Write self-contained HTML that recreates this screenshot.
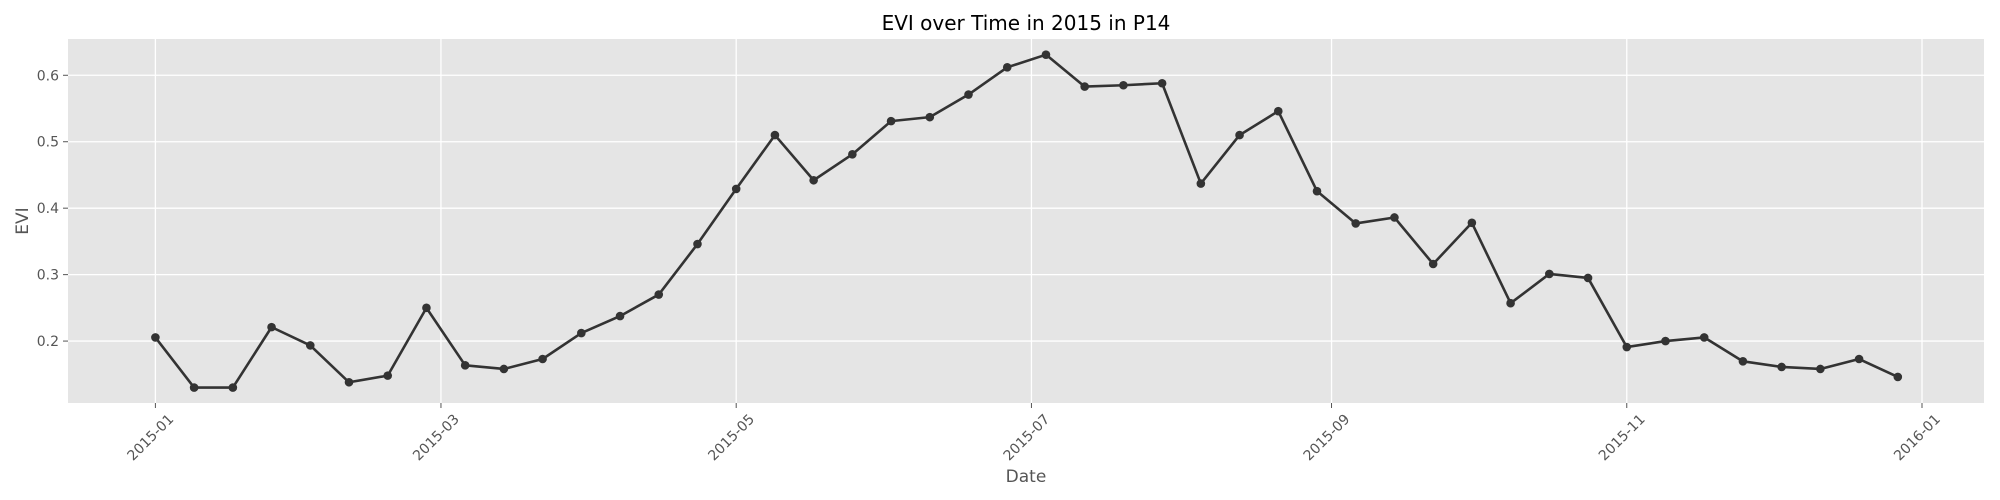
<!DOCTYPE html>
<html><head><meta charset="utf-8"><style>
html,body{margin:0;padding:0;background:#fff;}
svg{display:block;font-family:"DejaVu Sans","Liberation Sans",sans-serif;}
</style></head><body>
<svg id="chart" width="2000" height="500" viewBox="0 0 2000 500" xmlns="http://www.w3.org/2000/svg">
<rect x="0" y="0" width="2000" height="500" fill="#fff"/>
<text x="1026" y="30" font-size="20" text-anchor="middle" fill="#000">EVI over Time in 2015 in P14</text>
<rect x="68" y="39" width="1916" height="364" fill="#e5e5e5"/>
<g id="grid"></g>
<g id="axes"></g>
<g id="series"></g>
<text x="1026" y="482" font-size="17" text-anchor="middle" fill="#555">Date</text>
<text transform="translate(28,221) rotate(-90)" font-size="17" text-anchor="middle" fill="#555">EVI</text>
</svg>
<script>
const evi = [0.2055,0.130,0.130,0.221,0.1935,0.138,0.148,0.250,0.1635,0.158,0.173,0.212,0.2376,0.270,0.346,0.429,0.510,0.442,0.481,0.531,0.537,0.571,0.612,0.631,0.583,0.585,0.588,0.437,0.510,0.546,0.4256,0.377,0.386,0.316,0.378,0.257,0.301,0.295,0.191,0.200,0.2055,0.1695,0.161,0.158,0.173,0.146];
const startDate = "2015-01-01";
const stepDays = 8;
const yTicks = [0.2,0.3,0.4,0.5,0.6];
const yTickLabels = ["0.2","0.3","0.4","0.5","0.6"];
const xTickDates = ["2015-01-01","2015-03-01","2015-05-01","2015-07-01","2015-09-01","2015-11-01","2016-01-01"];
const xTickLabels = ["2015-01","2015-03","2015-05","2015-07","2015-09","2015-11","2016-01"];

const NS="http://www.w3.org/2000/svg";
const X0=155.4, PXDAY=4.84, L=68, R=1984, T=39, B=403;
const Y0=0.1068, Y1=0.6546;
const t0=Date.parse(startDate);
function dayOf(s){return (Date.parse(s)-t0)/86400000;}
function xs(d){return X0+d*PXDAY;}
function ys(v){return B-(v-Y0)/(Y1-Y0)*(B-T);}
function mk(tag,attrs,parent){const e=document.createElementNS(NS,tag);for(const k in attrs)e.setAttribute(k,attrs[k]);parent.appendChild(e);return e;}
const grid=document.getElementById('grid'),axes=document.getElementById('axes'),series=document.getElementById('series');
yTicks.forEach((v,i)=>{
  const y=ys(v);
  const g=mk('line',{x1:L,x2:R,y1:y,y2:y,stroke:'#fff','stroke-width':1.3},grid);
  
  
  const tk=mk('line',{x1:L-5,x2:L,y1:y,y2:y,stroke:'#555','stroke-width':1},axes);
  
  
  const t=mk('text',{x:L-9,y:y+5,'font-size':14,'text-anchor':'end',fill:'#555'},axes);
  
  
  t.textContent=yTickLabels[i];
});
xTickDates.forEach((s,i)=>{
  const x=xs(dayOf(s));
  const g=mk('line',{x1:x,x2:x,y1:T,y2:B,stroke:'#fff','stroke-width':1.3},grid);
  
  
  const tk=mk('line',{x1:x,x2:x,y1:B,y2:B+5,stroke:'#555','stroke-width':1},axes);
  
  
  const t=mk('text',{transform:`translate(${x+19},${B+17}) rotate(-45)`,'font-size':14,'text-anchor':'end',fill:'#555'},axes);
  
  
  t.textContent=xTickLabels[i];
});
const pts=evi.map((v,i)=>[xs(i*stepDays),ys(v)]);
const line=mk('polyline',{points:pts.map(p=>p.join(',')).join(' '),fill:'none',stroke:'#333','stroke-width':2.6,'stroke-linejoin':'round'},series);


pts.forEach(p=>{
  const c=mk('circle',{cx:p[0],cy:p[1],r:4.3,fill:'#333'},series);
  
  
});
</script>
</body></html>
